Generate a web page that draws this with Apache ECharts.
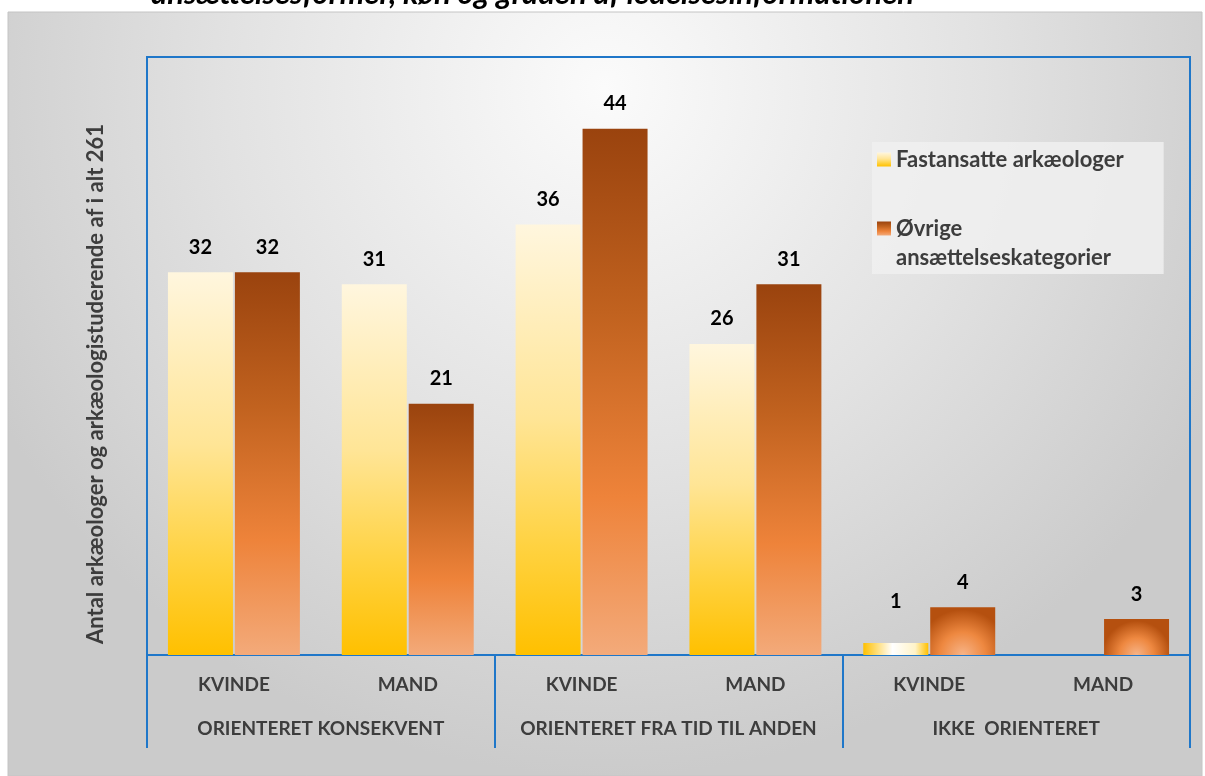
<!DOCTYPE html>
<html>
<head>
<meta charset="utf-8">
<title>Arkæologer</title>
<script src="https://cdn.jsdelivr.net/npm/echarts@6/dist/echarts.min.js"></script>
<style>
  html, body { margin: 0; padding: 0; background: #fff; }
  #chart { width: 1205px; height: 776px; }
</style>
</head>
<body>
<div id="chart"></div>
<script>
// kategorier (nederste og øverste niveau på x-aksen)
const categories = ['KVINDE', 'MAND', 'KVINDE', 'MAND', 'KVINDE', 'MAND']
const groups = ['ORIENTERET KONSEKVENT', 'ORIENTERET FRA TID TIL ANDEN', 'IKKE  ORIENTERET']
// serier
const fastansatte = [32, 31, 36, 26, 1, 0]
const oevrige = [32, 21, 44, 31, 4, 3]
const seriesNames = ['Fastansatte arkæologer', 'Øvrige ansættelseskategorier']

const chart = echarts.init(document.getElementById('chart'))
const G = echarts.graphic
const font = 'Lato'
const blue = '#1f77c9'
const textGrey = '#3d3d3d'

const yellowGrad = new G.LinearGradient(0, 0, 0, 1, [
  { offset: 0, color: '#fff6de' },
  { offset: 0.45, color: '#ffe596' },
  { offset: 0.75, color: '#ffd240' },
  { offset: 1, color: '#ffc000' }
])
const orangeGrad = new G.LinearGradient(0, 0, 0, 1, [
  { offset: 0, color: '#9a430e' },
  { offset: 0.35, color: '#c1621f' },
  { offset: 0.7, color: '#ee833a' },
  { offset: 1, color: '#f3aa7a' }
])
// de små søjler i sidste gruppe har en anden fyldning
const smallYellow = new G.LinearGradient(0, 0, 1, 0, [
  { offset: 0, color: '#ffc000' },
  { offset: 0.45, color: '#ffffff' },
  { offset: 0.8, color: '#fff3c8' },
  { offset: 1, color: '#ffc000' }
])
const smallOrange = new G.RadialGradient(0.5, 1, 0.95, [
  { offset: 0, color: '#f7b488' },
  { offset: 0.5, color: '#ee8840' },
  { offset: 1, color: '#b5500f' }
])

const labelFmt = (p) => (p.value ? p.value : '')

const option = {
  textStyle: { fontFamily: font },
  title: {
    text: 'ansættelsesformer, køn og graden af ledelsesinformationen',
    left: 146,
    top: -27,
    textStyle: { fontFamily: font, fontSize: 31, fontWeight: 'bold', fontStyle: 'italic', color: '#000' }
  },
  graphic: {
    elements: [
      {
        type: 'rect',
        z: -10,
        shape: { x: 8, y: 12, width: 1194, height: 764 },
        style: {
          fill: new G.RadialGradient(0.5, 0.1, 0.9, [
            { offset: 0, color: '#fbfbfb' },
            { offset: 0.55, color: '#e2e2e2' },
            { offset: 1, color: '#cbcbcb' }
          ]),
          stroke: '#c4c4c4',
          lineWidth: 1
        }
      }
    ]
  },
  legend: {
    orient: 'vertical',
    left: 872,
    top: 142,
    padding: [3, 40, 2, 5],
    itemGap: 11,
    itemWidth: 14,
    itemHeight: 14,
    icon: 'rect',
    backgroundColor: 'rgba(240,240,240,0.85)',
    textStyle: { fontFamily: font, fontSize: 22, fontWeight: 'bold', color: textGrey, lineHeight: 29 },
    // tom første linje, så ikonet står ud for "Øvrige"
    formatter: (name) => name === seriesNames[1] ? ' \nØvrige\nansættelseskategorier' : name,
    data: seriesNames
  },
  grid: {
    left: 147,
    right: 15,
    top: 57,
    bottom: 121,
    show: true,
    borderColor: blue,
    borderWidth: 2,
    backgroundColor: 'transparent'
  },
  xAxis: [
    {
      type: 'category',
      data: categories,
      axisLine: { lineStyle: { color: blue, width: 2 } },
      axisTick: { show: false },
      axisLabel: { interval: 0, margin: 20, fontFamily: font, fontSize: 19, fontWeight: 'bold', color: textGrey }
    },
    {
      type: 'category',
      data: groups,
      position: 'bottom',
      axisLine: { show: false },
      axisTick: { show: true, interval: 0, length: 93, lineStyle: { color: blue, width: 2 } },
      axisLabel: { interval: 0, margin: 64, fontFamily: font, fontSize: 19, fontWeight: 'bold', color: textGrey }
    }
  ],
  yAxis: {
    type: 'value',
    min: 0,
    max: 50,
    axisLine: { show: false },
    axisTick: { show: false },
    axisLabel: { show: false },
    splitLine: { show: false },
    name: 'Antal arkæologer og arkæologistuderende af i alt 261',
    nameLocation: 'middle',
    nameGap: 40,
    nameTextStyle: { fontFamily: font, fontSize: 22, fontWeight: 'bold', color: textGrey, padding: [0, 56, 0, 0] }
  },
  series: [
    {
      name: seriesNames[0],
      type: 'bar',
      barWidth: 65,
      barGap: '3%',
      itemStyle: { color: yellowGrad },
      label: {
        show: true, position: 'top', distance: 15, formatter: labelFmt,
        fontFamily: font, fontSize: 20, fontWeight: 'bold', color: '#000'
      },
      data: fastansatte.map((v, i) => i === 4
        ? { value: v, itemStyle: { color: smallYellow }, label: { distance: 31 } }
        : v)
    },
    {
      name: seriesNames[1],
      type: 'bar',
      barWidth: 65,
      itemStyle: { color: orangeGrad },
      label: {
        show: true, position: 'top', distance: 15, formatter: labelFmt,
        fontFamily: font, fontSize: 20, fontWeight: 'bold', color: '#000'
      },
      data: oevrige.map((v, i) => i >= 4 ? { value: v, itemStyle: { color: smallOrange } } : v)
    }
  ]
}

chart.setOption(option)
</script>
</body>
</html>
